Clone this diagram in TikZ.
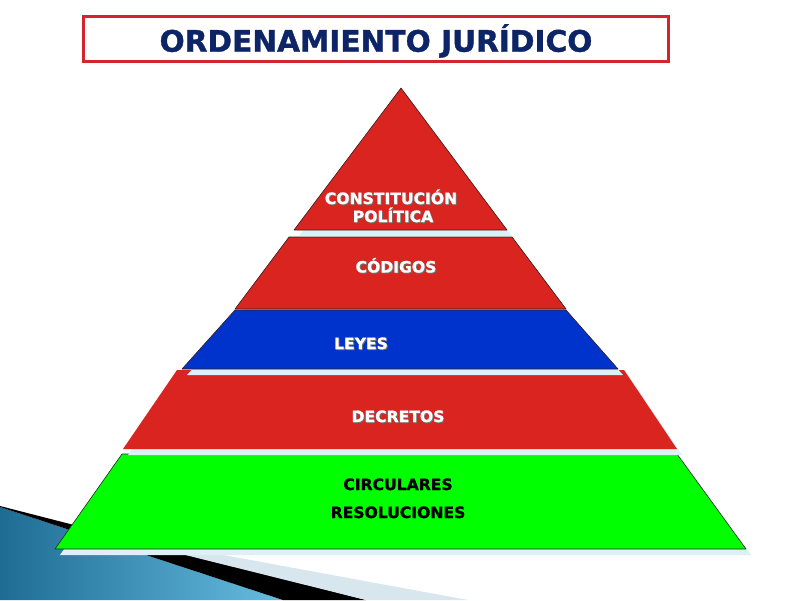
\documentclass[tikz,border=0pt]{standalone}
\usepackage{fontspec}
\setmainfont{DejaVu Sans}
\newfontfamily\heavyfont[FakeBold=1.2]{DejaVu Sans Bold}
\definecolor{pyrred}{HTML}{DA2420}
\definecolor{pyrblue}{HTML}{0033CC}
\definecolor{pyrgreen}{HTML}{00FF00}
\definecolor{shadowc}{HTML}{DDF0F8}
\definecolor{navy}{HTML}{0D2466}
\definecolor{titlered}{HTML}{D42430}
\definecolor{edgec}{HTML}{3A1A1A}
\definecolor{decodark}{HTML}{1E6C94}
\definecolor{decolight}{HTML}{66BCDF}
\definecolor{decopale}{HTML}{D8E6EE}
\newcommand\shtxt[1]{\makebox[0pt][l]{\kern0.9pt\raisebox{-0.9pt}{\color{black!55}#1}}#1}
\tikzset{
  layer/.style={draw=edgec, line width=0.6pt, line join=round},
  shadowpiece/.style={fill=shadowc, shift={(5,6)}},
  lbl/.style={font=\fontsize{15.6}{18}\heavyfont, text=white, inner sep=0pt, anchor=base},
  lbldark/.style={lbl, text=black},
  titlebox/.style={draw=titlered, line width=3pt, fill=white, minimum width=585pt, minimum height=45pt, inner sep=0pt},
  titletext/.style={font=\fontsize{29.6}{32}\heavyfont, text=navy, inner sep=0pt, anchor=base}
}
\begin{document}
\begin{tikzpicture}[x=1pt,y=-1pt]
\useasboundingbox (0,0) rectangle (800,600);
\fill[white] (0,0) rectangle (800,600);
% background decoration
\shade[left color=decodark, right color=decolight] (0,507) -- (283,600) -- (0,600) -- cycle;
\fill[black] (0,506) -- (366,600) -- (283,600) -- (0,507) -- cycle;
\fill[decopale] (79,528.5) -- (468,600) -- (366,600) -- cycle;
% circulares / resoluciones
\fill[shadowpiece] (122,454) -- (677,454) -- (746,549) -- (55,549) -- cycle;
\filldraw[layer, fill=pyrgreen, draw=black!85] (122,454) -- (677,454) -- (746,549) -- (55,549) -- cycle;
% decretos
\fill[shadowpiece] (177,370) -- (624,370) -- (677,449) -- (123,449) -- cycle;
\fill[pyrred] (177,370) -- (624,370) -- (677,449) -- (123,449) -- cycle;
% codigos
\fill[shadowpiece] (289,237) -- (512,237) -- (566,309) -- (235,309) -- cycle;
\filldraw[layer, fill=pyrred] (289,237) -- (512,237) -- (566,309) -- (235,309) -- cycle;
% leyes
\fill[shadowpiece] (235,310) -- (566,310) -- (618,369) -- (182,369) -- cycle;
\filldraw[layer, fill=pyrblue] (235,310) -- (566,310) -- (618,369) -- (182,369) -- cycle;
% constitucion
\fill[shadowpiece] (401,88) -- (507,230) -- (294,230) -- cycle;
\filldraw[layer, fill=pyrred] (401,88) -- (507,230) -- (294,230) -- cycle;
% title
\node[titlebox] (tbox) at (376,39) {};
\node[titletext] (ttext) at (376,51.7) {ORDENAMIENTO JURÍDICO};
% labels
\node[lbl] (const1) at (391,204) {\shtxt{CONSTITUCIÓN}};
\node[lbl] (const2) at (393,222) {\shtxt{POLÍTICA}};
\node[lbl] (codigos) at (396,272.5) {\shtxt{CÓDIGOS}};
\node[lbl] (leyes) at (361,349) {\shtxt{LEYES}};
\node[lbl] (decretos) at (398,422) {\shtxt{DECRETOS}};
\node[lbldark] (circ) at (398,490) {CIRCULARES};
\node[lbldark] (resol) at (398,518) {RESOLUCIONES};
\end{tikzpicture}
\end{document}
